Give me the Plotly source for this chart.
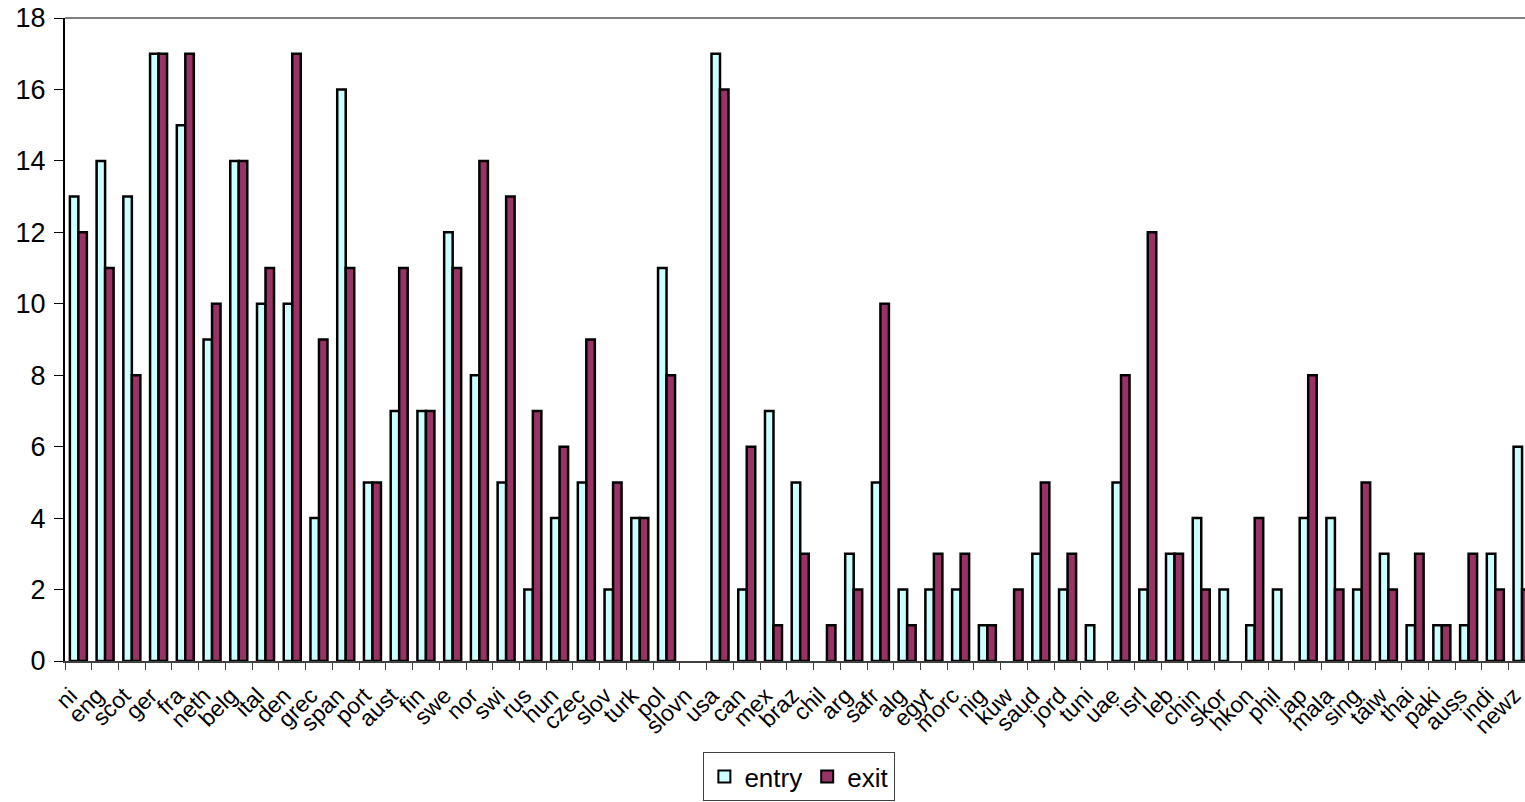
import plotly.graph_objects as go

# Country codes along the category axis
countries = [
    "ni", "eng", "scot", "ger", "fra", "neth", "belg", "ital", "den", "grec",
    "span", "port", "aust", "fin", "swe", "nor", "swi", "rus", "hun", "czec",
    "slov", "turk", "pol", "slovn", "usa", "can", "mex", "braz", "chil", "arg",
    "safr", "alg", "egyt", "morc", "nig", "kuw", "saud", "jord", "tuni", "uae",
    "isrl", "leb", "chin", "skor", "hkon", "phil", "jap", "mala", "sing", "taiw",
    "thai", "paki", "auss", "indi", "newz",
]

entry = [
    13, 14, 13, 17, 15, 9, 14, 10, 10, 4,
    16, 5, 7, 7, 12, 8, 5, 2, 4, 5,
    2, 4, 11, 0, 17, 2, 7, 5, 0, 3,
    5, 2, 2, 2, 1, 0, 3, 2, 1, 5,
    2, 3, 4, 2, 1, 2, 4, 4, 2, 3,
    1, 1, 1, 3, 6,
]

exit_ = [
    12, 11, 8, 17, 17, 10, 14, 11, 17, 9,
    11, 5, 11, 7, 11, 14, 13, 7, 6, 9,
    5, 4, 8, 0, 16, 6, 1, 3, 1, 2,
    10, 1, 3, 3, 1, 2, 5, 3, 0, 8,
    12, 3, 2, 0, 4, 0, 8, 2, 5, 2,
    3, 1, 3, 2, 2,
]

y_ticks = [0, 2, 4, 6, 8, 10, 12, 14, 16, 18]

FONT = "Liberation Sans, Arial, sans-serif"


def outline_widths(values, w=2.5):
    # empty bars get no outline so nothing is drawn on the baseline
    return [w if v else 0 for v in values]


fig = go.Figure()
fig.add_trace(go.Bar(
    x=countries, y=entry, name="entry",
    marker=dict(color="#CCFFFF",
                line=dict(color="black", width=outline_widths(entry))),
))
fig.add_trace(go.Bar(
    x=countries, y=exit_, name="exit",
    marker=dict(color="#993366",
                line=dict(color="black", width=outline_widths(exit_))),
))

# plot frame: grey top border
fig.add_shape(type="line", xref="paper", yref="paper",
              x0=0, x1=1, y0=1, y1=1,
              line=dict(color="#808080", width=2))

fig.update_layout(
    width=1525, height=802,
    margin=dict(l=65, r=0, t=18, b=141, autoexpand=False),
    paper_bgcolor="white", plot_bgcolor="white",
    barmode="group", bargap=0.364, bargroupgap=0,
    font=dict(family=FONT, color="black"),
    showlegend=True,
    legend=dict(
        orientation="h", x=0.503, xanchor="center",
        y=-0.218, yanchor="bottom",
        bordercolor="#404040", borderwidth=1,
        font=dict(size=26, family=FONT),
        itemsizing="constant",
    ),
    xaxis=dict(
        type="category",
        range=[-0.5, 54.11],
        tickmode="linear", tick0=0, dtick=1,
        tickson="boundaries",
        ticks="outside", ticklen=7, tickcolor="#404040", tickwidth=1,
        tickangle=-45,
        tickfont=dict(size=23, family=FONT),
        ticklabelshift=-8, ticklabelstandoff=10,
        showline=True, linecolor="#404040", linewidth=2,
        showgrid=False, zeroline=False,
    ),
    yaxis=dict(
        range=[0, 18],
        tickvals=y_ticks,
        ticks="outside", ticklen=9, tickcolor="black", tickwidth=1,
        tickfont=dict(size=27, family=FONT),
        ticklabelstandoff=3,
        showline=True, linecolor="black", linewidth=2,
        showgrid=False, zeroline=False,
    ),
)

fig.write_html("out.html")
